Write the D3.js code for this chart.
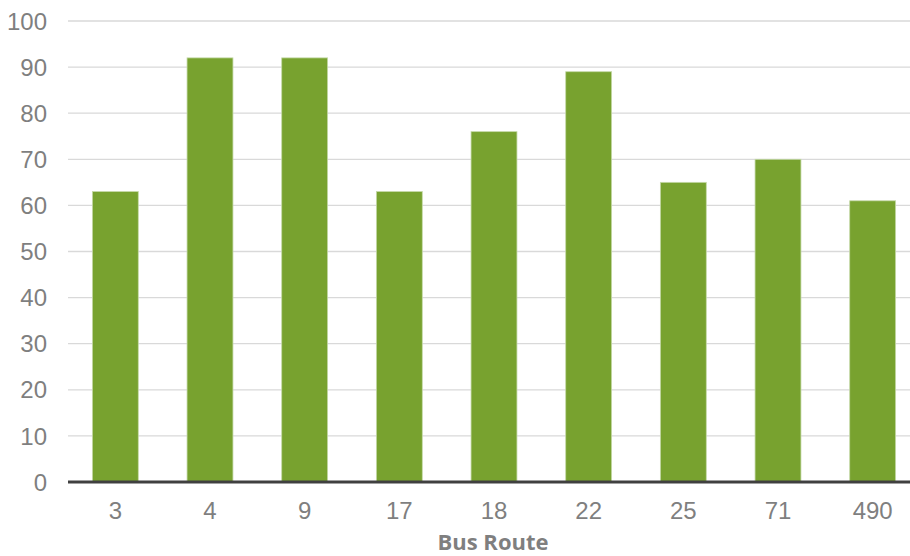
<!DOCTYPE html>
<html lang="en">
<head>
  <meta charset="UTF-8">
  <title>Bus Route</title>
  <script src="https://d3js.org/d3.v7.min.js"></script>
  <style>
    body { margin: 0; background: #fff; }
  </style>
</head>
<body>
  <svg width="910" height="556"></svg>
  <script>
    // chart data
    const routes = ["3", "4", "9", "17", "18", "22", "25", "71", "490"];
    const values = [63, 92, 92, 63, 76, 89, 65, 70, 61];
    const yTicks = [0, 10, 20, 30, 40, 50, 60, 70, 80, 90, 100];

    const width = 910, height = 556;
    const svg = d3.select("svg");
    const labelFont = "'Liberation Sans', Arial, sans-serif";

    const x = d3.scaleBand()
                .domain(routes)
                .range([68, 920])
                .paddingInner(0.515)
                .paddingOuter(0.2575);

    const y = d3.scaleLinear()
                .domain([0, 100])
                .range([482, 21]);

    // gridlines
    svg.append("g")
       .selectAll("line")
       .data(yTicks.filter(d => d > 0))
       .enter().append("line")
       .attr("x1", 68)
       .attr("x2", width)
       .attr("y1", d => y(d))
       .attr("y2", d => y(d))
       .attr("stroke", "#d9d9d9")
       .attr("stroke-width", 1.3);

    // y labels
    svg.append("g")
       .selectAll("text")
       .data(yTicks)
       .enter().append("text")
       .attr("x", 47)
       .attr("y", d => y(d))
       .attr("dy", "0.36em")
       .attr("text-anchor", "end")
       .style("font-family", labelFont)
       .style("font-size", "24px")
       .style("fill", "#7f7f7f")
       .text(d => d);

    // bars
    svg.append("g")
       .selectAll("rect")
       .data(values)
       .enter().append("rect")
       .attr("x", (d, i) => x(routes[i]))
       .attr("width", x.bandwidth())
       .attr("y", d => y(d))
       .attr("height", d => y(0) - y(d))
       .attr("fill", "#78a22f")
       .attr("stroke", "#c5d9a8")
       .attr("stroke-width", 0.8);

    // baseline
    svg.append("line")
       .attr("x1", 68)
       .attr("x2", width)
       .attr("y1", y(0))
       .attr("y2", y(0))
       .attr("stroke", "#404040")
       .attr("stroke-width", 3);

    // x labels
    svg.append("g")
       .selectAll("text")
       .data(routes)
       .enter().append("text")
       .attr("x", d => x(d) + x.bandwidth() / 2)
       .attr("y", 519)
       .attr("text-anchor", "middle")
       .style("font-family", labelFont)
       .style("font-size", "24px")
       .style("fill", "#7f7f7f")
       .text(d => d);

    svg.append("text")
       .attr("x", 493)
       .attr("y", 550)
       .attr("text-anchor", "middle")
       .style("font-family", "'Open Sans', sans-serif")
       .style("font-weight", "bold")
       .style("font-size", "22px")
       .style("fill", "#7f7f7f")
       .text("Bus Route");
  </script>
</body>
</html>
